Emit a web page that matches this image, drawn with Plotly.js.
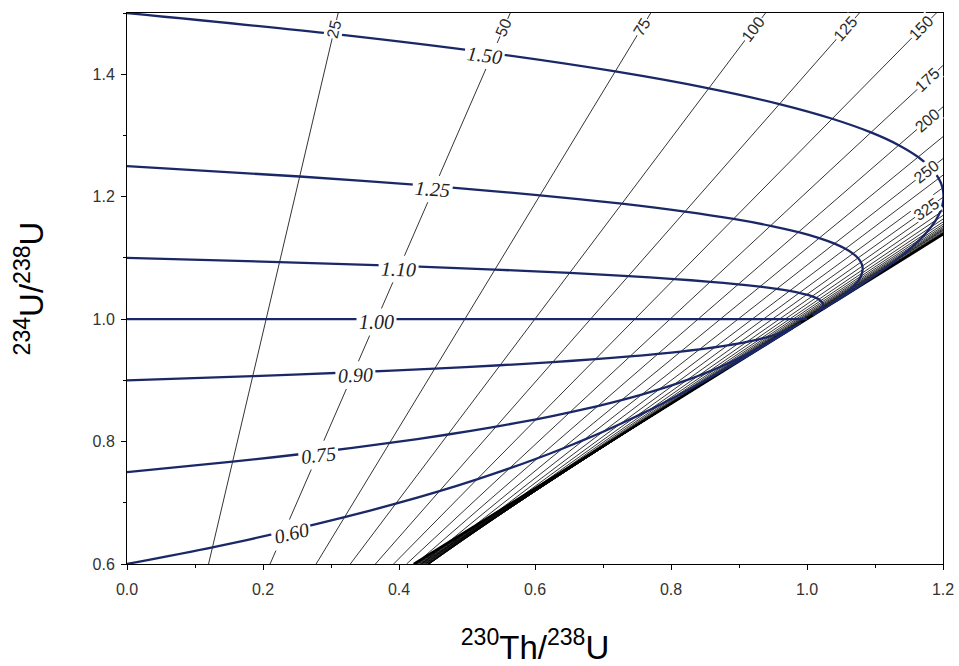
<!DOCTYPE html>
<html><head><meta charset="utf-8">
<script src="https://cdn.plot.ly/plotly-3.0.1.min.js"></script>
<style>html,body{margin:0;padding:0;background:#fff}</style>
</head><body><div id="chart" style="width:959px;height:666px"></div>
<script>
// ---- Growth curves (initial 234U/238U), points every few ka of age ----
const curveAges = [0,25,50,75,100,125,150,175,200,225,250,275,300,325,350,375,400,450,500,600,800,1000];
const curveNames = ['1.50','1.25','1.10','1.00','0.90','0.75','0.60'];

const th150 = [0,0.30328,0.53776,0.71799,0.85551,0.95943,1.03703,1.09404,1.13493,1.16341,1.18221,1.1936,1.19934,1.2008,1.19909,1.19503,1.18932,1.17478,1.15835,1.12562,1.07427,1.04267];
const u150  = [1.5,1.4659,1.43412,1.40451,1.37693,1.35121,1.32725,1.30492,1.28412,1.26474,1.24669,1.22986,1.21418,1.19957,1.18596,1.17327,1.16146,1.14018,1.12171,1.09175,1.05214,1.02963];

const th125 = [0,0.25396,0.45257,0.6074,0.72764,0.82055,0.89192,0.94634,0.98738,1.01801,1.04045,1.05651,1.06763,1.07492,1.07927,1.0814,1.08184,1.07927,1.07405,1.06076,1.03681,1.02127];
const u125  = [1.25,1.23295,1.21706,1.20225,1.18846,1.1756,1.16362,1.15246,1.14206,1.13237,1.12335,1.11493,1.10709,1.09979,1.09298,1.08664,1.08073,1.07009,1.06086,1.04588,1.02607,1.01481];

const th110 = [0,0.22436,0.40146,0.54105,0.65093,0.73722,0.80486,0.85773,0.89885,0.93078,0.95539,0.97426,0.9886,0.99938,1.00738,1.01321,1.01734,1.02197,1.02346,1.02184,1.01433,1.00844];
const u110  = [1.1,1.09318,1.08682,1.0809,1.07539,1.07024,1.06545,1.06098,1.05682,1.05295,1.04934,1.04597,1.04284,1.03991,1.03719,1.03465,1.03229,1.02804,1.02434,1.01835,1.01043,1.00593];

const th100 = [0,0.20463,0.36738,0.49682,0.59978,0.68167,0.74682,0.79865,0.83983,0.87262,0.89869,0.91943,0.93592,0.94903,0.95946,0.96775,0.97435,0.98377,0.98974,0.99589,0.99934,0.99989];
const u100  = [1,1,1,1,1,1,1,1,1,1,1,1,1,1,1,1,1,1,1,1,1,1];

const th090 = [0,0.1849,0.3333,0.45259,0.54863,0.62612,0.68878,0.73957,0.78081,0.81446,0.84199,0.8646,0.88324,0.89868,0.91154,0.92229,0.93136,0.94557,0.95602,0.96994,0.98435,0.99134];
const u090  = [0.9,0.90682,0.91318,0.9191,0.92462,0.92976,0.93455,0.93902,0.94318,0.94705,0.95066,0.95403,0.95716,0.96009,0.96281,0.96535,0.96771,0.97196,0.97566,0.98165,0.98957,0.99407];

const th075 = [0,0.1553,0.28219,0.38624,0.47192,0.54279,0.60172,0.65096,0.69228,0.72723,0.75693,0.78235,0.80421,0.82314,0.83965,0.8541,0.86686,0.88827,0.90543,0.93102,0.96187,0.97851];
const u075  = [0.75,0.76705,0.78294,0.79775,0.81154,0.8244,0.83638,0.84754,0.85794,0.86763,0.87665,0.88507,0.89291,0.90021,0.90702,0.91336,0.91927,0.92991,0.93914,0.95412,0.97393,0.98519];

const th060 = [0,0.12571,0.23108,0.31988,0.3952,0.45946,0.51465,0.56234,0.60375,0.63999,0.67187,0.7001,0.72519,0.74761,0.76776,0.78593,0.80238,0.83096,0.85485,0.89211,0.9394,0.96567];
const u060  = [0.6,0.62728,0.65271,0.6764,0.69846,0.71904,0.7382,0.75606,0.7727,0.78821,0.80265,0.81612,0.82866,0.84034,0.85124,0.86138,0.87084,0.88786,0.90263,0.9266,0.95829,0.9763];

// ---- Isochrons (age in ka): 230Th/238U where each line meets 234U/238U = 0.6 and 1.5 ----
const isoU = [0.6, 1.5];
const isoAges = [25,50,75,100,125,150,175,200,225,250,275,300,325,350,375,400,425,450,475,500,525,550,575,600,650,700,750,800,900,1000];
const isoThLow  = [0.11993,0.21039,0.27811,0.3284,0.36532,0.39209,0.41116,0.42437,0.43327,0.43897,0.44233,0.44397,0.44441,0.44402,0.44307,0.44179,0.44031,0.43873,0.43715,0.43562,0.43414,0.43277,0.43149,0.43032,0.42832,0.42672,0.42545,0.42447,0.42316,0.4224];
const isoThHigh = [0.31051,0.56362,0.77021,0.93901,1.07711,1.19024,1.28302,1.35916,1.42181,1.47334,1.51581,1.55086,1.57981,1.60376,1.62361,1.64006,1.65372,1.66507,1.67452,1.6824,1.68896,1.69444,1.69903,1.70285,1.70876,1.71292,1.71585,1.71793,1.72047,1.72176];
const eqTh = [0.42148, 1.72315];   // infinite-age line
const labelledAges = [25,50,75,100,125,150,175,200,250,325];

// ---- layout constants ----
const W = 959, H = 666;
const M = {l:127, r:16, t:13, b:102};
const XR = [0, 1.2], YR = [0.6, 1.5];
const sx = (W - M.l - M.r) / (XR[1]-XR[0]);
const sy = (H - M.t - M.b) / (YR[1]-YR[0]);
const BLUE = '#1b2868';

const traces = [];
isoAges.forEach((age, i) => {
  traces.push({x:[isoThLow[i], isoThHigh[i]], y:isoU, mode:'lines', type:'scatter',
    line:{color:'#000', width:0.8}, hoverinfo:'skip'});
});
traces.push({x:eqTh, y:isoU, mode:'lines', type:'scatter', line:{color:'#000', width:2.4}, hoverinfo:'skip'});

const curveTh = [th150, th125, th110, th100, th090, th075, th060];
const curveU  = [u150, u125, u110, u100, u090, u075, u060];
curveTh.forEach((th, k) => {
  traces.push({x:th, y:curveU[k], mode:'lines', type:'scatter', name:curveNames[k],
    line:{color:BLUE, width:2.3, shape:'spline', smoothing:0.8}, hoverinfo:'skip'});
});

const annotations = [];
// isochron labels near where the line leaves the frame
labelledAges.forEach(age => {
  const i = isoAges.indexOf(age);
  const x0 = isoThLow[i], x1 = isoThHigh[i], y0 = isoU[0], y1 = isoU[1];
  let ex, ey;
  if (x1 <= XR[1]) { ex = x1; ey = YR[1]; }
  else { ex = XR[1]; ey = y0 + (XR[1]-x0)/(x1-x0)*(y1-y0); }
  const dxp = (x1-x0)*sx, dyp = (y1-y0)*sy;
  const len = Math.hypot(dxp, dyp);
  const ux = dxp/len, uy = dyp/len;
  const txt = String(age);
  const back = txt.length*4.6 + 7;
  annotations.push({x: ex - ux*back/sx, y: ey - uy*back/sy, xref:'x', yref:'y',
    text: txt, showarrow:false, textangle: -Math.atan2(dyp, dxp)*180/Math.PI,
    font:{family:'Liberation Sans, Arial, sans-serif', size:16, color:'#2a2a2a'},
    bgcolor:'#fff', borderpad:0, xanchor:'center', yanchor:'middle'});
});
// growth-curve labels
const labelTh = [0.525, 0.449, 0.399, 0.367, 0.336, 0.282, 0.242];
curveTh.forEach((th, k) => {
  const u = curveU[k];
  const t = labelTh[k];
  let j = 0;
  while (j < th.length-2 && th[j+1] < t) j++;
  const f = (t - th[j])/(th[j+1]-th[j]);
  const uu = u[j] + f*(u[j+1]-u[j]);
  const ang = -Math.atan2((u[j+1]-u[j])*sy, (th[j+1]-th[j])*sx)*180/Math.PI;
  annotations.push({x:t, y:uu, xref:'x', yref:'y', text:'<i>'+curveNames[k]+'</i>', showarrow:false,
    textangle: ang, yshift:-3, font:{family:'Liberation Serif, Times New Roman, serif', size:20, color:'#222'},
    bgcolor:'#fff', borderpad:2, xanchor:'center', yanchor:'middle'});
});

const tickFont = {family:'Liberation Sans, Arial, sans-serif', size:16, color:'#333'};
const titleFont = {family:'Liberation Sans, Arial, sans-serif', size:33, color:'#000'};
const axisCommon = {showgrid:false, zeroline:false, showline:true, linecolor:'#000', linewidth:1,
  mirror:true, ticks:'outside', ticklen:5, tickcolor:'#000', tickformat:'.1f', tickfont:tickFont,
  minor:{ticks:'outside', ticklen:3, tickcolor:'#000', dtick:0.1, showgrid:false}};

const layout = {
  width:W, height:H, margin:M, paper_bgcolor:'#fff', plot_bgcolor:'#fff', showlegend:false,
  font:{family:'Liberation Sans, Arial, sans-serif', size:16, color:'#333'},
  xaxis: Object.assign({}, axisCommon, {range:XR, dtick:0.2, tick0:0, ticklabelstandoff:6,
    title:{text:'<sup>230</sup>Th/<sup>238</sup>U', standoff:40, font:titleFont}}),
  yaxis: Object.assign({}, axisCommon, {range:YR, dtick:0.2, tick0:0.6, ticklabelstandoff:3,
    title:{text:'<sup>234</sup>U/<sup>238</sup>U', standoff:38, font:titleFont}}),
  annotations: annotations
};

Plotly.newPlot('chart', traces, layout, {displayModeBar:false, staticPlot:true});
</script>
</body></html>
